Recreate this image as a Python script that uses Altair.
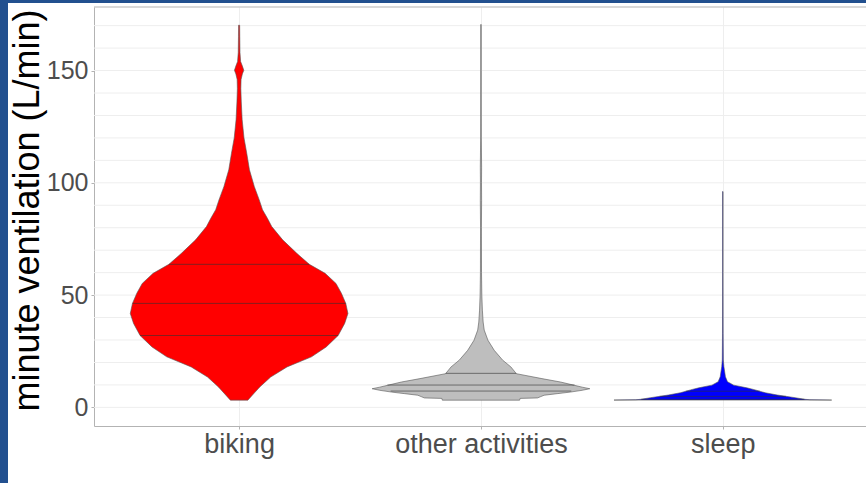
import altair as alt
import pandas as pd

categories = ["biking", "other activities", "sleep"]
fill_colors = ["#FF0000", "#BEBEBE", "#0000FF"]

# violin outlines: value (L/min) and relative density (1 = widest)
biking_y = [3.2, 9.1, 13.5, 18.0, 22.5, 26.9, 32.0, 37.4, 41.8, 46.3, 50.8, 55.2, 59.7,
            63.7, 68.6, 74.6, 80.5, 84.2, 88.0, 92.4, 98.3, 105.8, 113.2, 120.0, 128.1,
            136.0, 142.0, 146.0, 148.5, 150.1, 152.0, 154.0, 158.0, 165.0, 170.2]
biking_d = [0.08, 0.19, 0.29, 0.44, 0.665, 0.80, 0.91, 0.97, 1.00, 0.98, 0.94, 0.89, 0.79,
            0.645, 0.53, 0.40, 0.30, 0.26, 0.215, 0.185, 0.14, 0.095, 0.07, 0.045, 0.028,
            0.02, 0.016, 0.018, 0.03, 0.043, 0.03, 0.014, 0.008, 0.006, 0.005]

other_y = [3.2, 4.0, 4.2, 4.8, 5.4, 6.1, 6.8, 7.6, 8.3, 9.0, 9.8, 11.3, 12.8, 15.0, 18.0,
           21.0, 25.4, 29.9, 34.4, 38.0, 43.3, 50.0, 60.0, 80.0, 92.0, 100.0, 107.0, 120.0,
           150.0, 170.5]
other_d = [0.355, 0.36, 0.52, 0.55, 0.58, 0.70, 0.82, 0.93, 1.00, 0.93, 0.86, 0.73, 0.56,
           0.325, 0.275, 0.20, 0.122, 0.064, 0.03, 0.02, 0.013, 0.008, 0.005, 0.004, 0.006,
           0.005, 0.006, 0.003, 0.002, 0.002]

sleep_y = [3.25, 3.4, 3.6, 4.3, 5.5, 6.5, 8.0, 8.7, 9.9, 11.4, 13.6, 18.1, 21.1, 33.0,
           60.0, 96.1]
sleep_d = [1.00, 0.80, 0.75, 0.665, 0.50, 0.39, 0.28, 0.22, 0.10, 0.043, 0.024, 0.01,
           0.005, 0.003, 0.002, 0.002]

# quartile lines drawn inside the violins
quant_cat = ["biking", "biking", "biking",
             "other activities", "other activities", "other activities",
             "sleep", "sleep", "sleep"]
quant_y = [32.0, 46.3, 63.7, 7.26, 9.94, 15.15, 3.6, 4.9, 7.2]
quant_d = [0.91, 0.98, 0.645, 0.83, 0.86, 0.325, 0.75, 0.58, 0.34]

y_ticks = [0, 50, 100, 150]
grid_y = [0, 10, 20, 30, 40, 50, 60, 70, 80, 90, 100, 110, 120, 130, 140, 150, 160, 170]

HALF = 0.45  # violin half-width in category units

rows = []
for i, (cat, ys, ds) in enumerate(zip(categories,
                                      [biking_y, other_y, sleep_y],
                                      [biking_d, other_d, sleep_d])):
    for yv, dv in zip(ys, ds):
        rows.append({"cat": cat, "y": yv, "xl": i - dv * HALF, "xr": i + dv * HALF})
vdf = pd.DataFrame(rows)

qrows = []
for cat, yv, dv in zip(quant_cat, quant_y, quant_d):
    i = categories.index(cat)
    qrows.append({"cat": cat, "y": yv, "xl": i - dv * HALF, "xr": i + dv * HALF})
qdf = pd.DataFrame(qrows)

gdf = pd.DataFrame({"g": grid_y})
one = pd.DataFrame({"k": [0]})

W, H = 772, 419
FONT = "Liberation Sans"

label_expr = ("datum.value == 0 ? 'biking' : datum.value == 1 ? 'other activities' : "
              "datum.value == 2 ? 'sleep' : ''")

xscale = alt.Scale(domain=[-0.6, 2.592], nice=False, zero=False)
yscale = alt.Scale(domain=[-8.3, 178.3], nice=False, zero=False)

x_axis = alt.Axis(values=[0, 1, 2], labelExpr=label_expr, title=None,
                  grid=True, gridColor="#eeeeee", gridWidth=1,
                  labelFontSize=27, labelColor="#4d4d4d", labelFont=FONT,
                  labelPadding=2, tickSize=3, tickColor="#b3b3b3",
                  domainColor="#b3b3b3", labelFlush=False)
y_axis = alt.Axis(values=y_ticks, title="minute ventilation (L/min)",
                  grid=False, labelFontSize=25, labelColor="#4d4d4d", labelFont=FONT,
                  labelPadding=3, tickSize=3, tickColor="#b3b3b3", domainColor="#b3b3b3",
                  titleFontSize=36, titleColor="#000000", titleFont=FONT,
                  titleFontWeight="normal", titleX=-67, titleY=203, titleBaseline="middle",
                  titleAngle=270)

grid = alt.Chart(gdf).mark_rule(color="#eeeeee", strokeWidth=1).encode(
    y=alt.Y("g:Q", scale=yscale, axis=y_axis)
)

violins = alt.Chart(vdf).mark_area(orient="horizontal", stroke="#555555",
                                   strokeWidth=0.6, opacity=1).encode(
    y=alt.Y("y:Q", scale=yscale, axis=y_axis),
    x=alt.X("xl:Q", scale=xscale, axis=x_axis),
    x2="xr:Q",
    color=alt.Color("cat:N", scale=alt.Scale(domain=categories, range=fill_colors),
                    legend=None),
    detail="cat:N",
)

quants = alt.Chart(qdf).mark_rule(color="#333333", strokeWidth=0.6).encode(
    y=alt.Y("y:Q", scale=yscale),
    x=alt.X("xl:Q", scale=xscale),
    x2="xr:Q",
)

top_border = alt.Chart(one).mark_rule(color="#b3b3b3", strokeWidth=1).encode(
    y=alt.value(0)
)

frame_left = alt.Chart(one).mark_rect(color="#22508f", clip=False).encode(
    x=alt.value(-94), x2=alt.value(-86), y=alt.value(-7), y2=alt.value(H + 57)
)
frame_top = alt.Chart(one).mark_rect(color="#22508f", clip=False).encode(
    x=alt.value(-94), x2=alt.value(W), y=alt.value(-7), y2=alt.value(-4)
)

chart = alt.layer(grid, violins, quants, top_border, frame_left, frame_top).properties(
    width=W, height=H,
    autosize=alt.AutoSizeParams(type="none"),
    padding={"left": 94, "top": 7, "right": 0, "bottom": 57},
    background="#ffffff",
).configure_view(stroke=None)

chart.save("out.html", embed_options={"renderer": "svg", "actions": False})
